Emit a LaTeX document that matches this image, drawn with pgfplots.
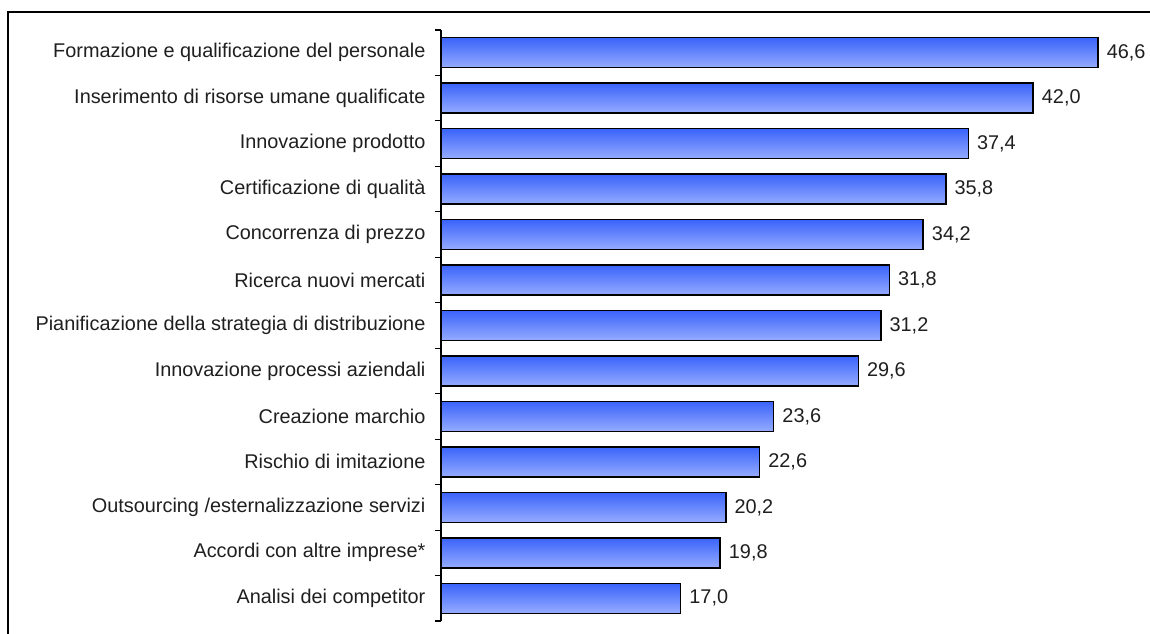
\documentclass[border=0pt]{standalone}
\usepackage{fontspec}
\setmainfont{Liberation Sans}
\usepackage{pgfplots}
\pgfplotsset{compat=1.18}
\definecolor{bartop}{RGB}{58,99,250}
\definecolor{barbot}{RGB}{150,172,255}
\newcommand{\lblfont}{\fontsize{14.9}{17}\selectfont}
\pgfplotsset{mybar/.style={xbar, bar width=0.66, bar shift=0pt, draw=black, line width=1.1pt,
  top color=bartop, bottom color=barbot,
  nodes near coords,
  nodes near coords style={font=\lblfont, anchor=west, inner sep=0pt, xshift=6pt, text=black!88,
    /pgf/number format/.cd, fixed, fixed zerofill, precision=1, use comma, assume math mode=true}}}
\begin{document}
\begin{tikzpicture}
\useasboundingbox (0,0) rectangle (862.5pt,474.75pt);
\draw[line width=1.5pt] (6pt,-2pt) -- (6pt,465.75pt) -- (864pt,465.75pt);
\begin{axis}[
  at={(330.75pt,9pt)}, anchor=south west,
  scale only axis, width=528.75pt, height=443.25pt,
  xmin=0, xmax=50, ymin=-0.5, ymax=12.5, y dir=reverse,
  axis x line=none, axis y line=left, axis line style={-, line width=0.8pt},
  ytick={0,...,12},
  yticklabels={Formazione e qualificazione del personale,
    Inserimento di risorse umane qualificate,
    Innovazione prodotto,
    Certificazione di qualità,
    Concorrenza di prezzo,
    Ricerca nuovi mercati,
    Pianificazione della strategia di distribuzione,
    Innovazione processi aziendali,
    Creazione marchio,
    Rischio di imitazione,
    Outsourcing /esternalizzazione servizi,
    Accordi con altre imprese*,
    Analisi dei competitor},
  major tick length=0pt,
  minor ytick={-0.5,0.5,...,12.5},
  minor tick length=4.5pt, tick align=outside,
  minor tick style={line width=0.8pt, black},
  yticklabel style={font=\lblfont, anchor=east, inner sep=0pt, xshift=-11.5pt, text=black!88},
  /pgf/number format/assume math mode=true,
  clip=false,
]
\addplot[mybar] coordinates {(46.6,0)};
\addplot[mybar] coordinates {(42.0,1)};
\addplot[mybar] coordinates {(37.4,2)};
\addplot[mybar] coordinates {(35.8,3)};
\addplot[mybar] coordinates {(34.2,4)};
\addplot[mybar] coordinates {(31.8,5)};
\addplot[mybar] coordinates {(31.2,6)};
\addplot[mybar] coordinates {(29.6,7)};
\addplot[mybar] coordinates {(23.6,8)};
\addplot[mybar] coordinates {(22.6,9)};
\addplot[mybar] coordinates {(20.2,10)};
\addplot[mybar] coordinates {(19.8,11)};
\addplot[mybar] coordinates {(17.0,12)};
\end{axis}
\end{tikzpicture}
\end{document}
